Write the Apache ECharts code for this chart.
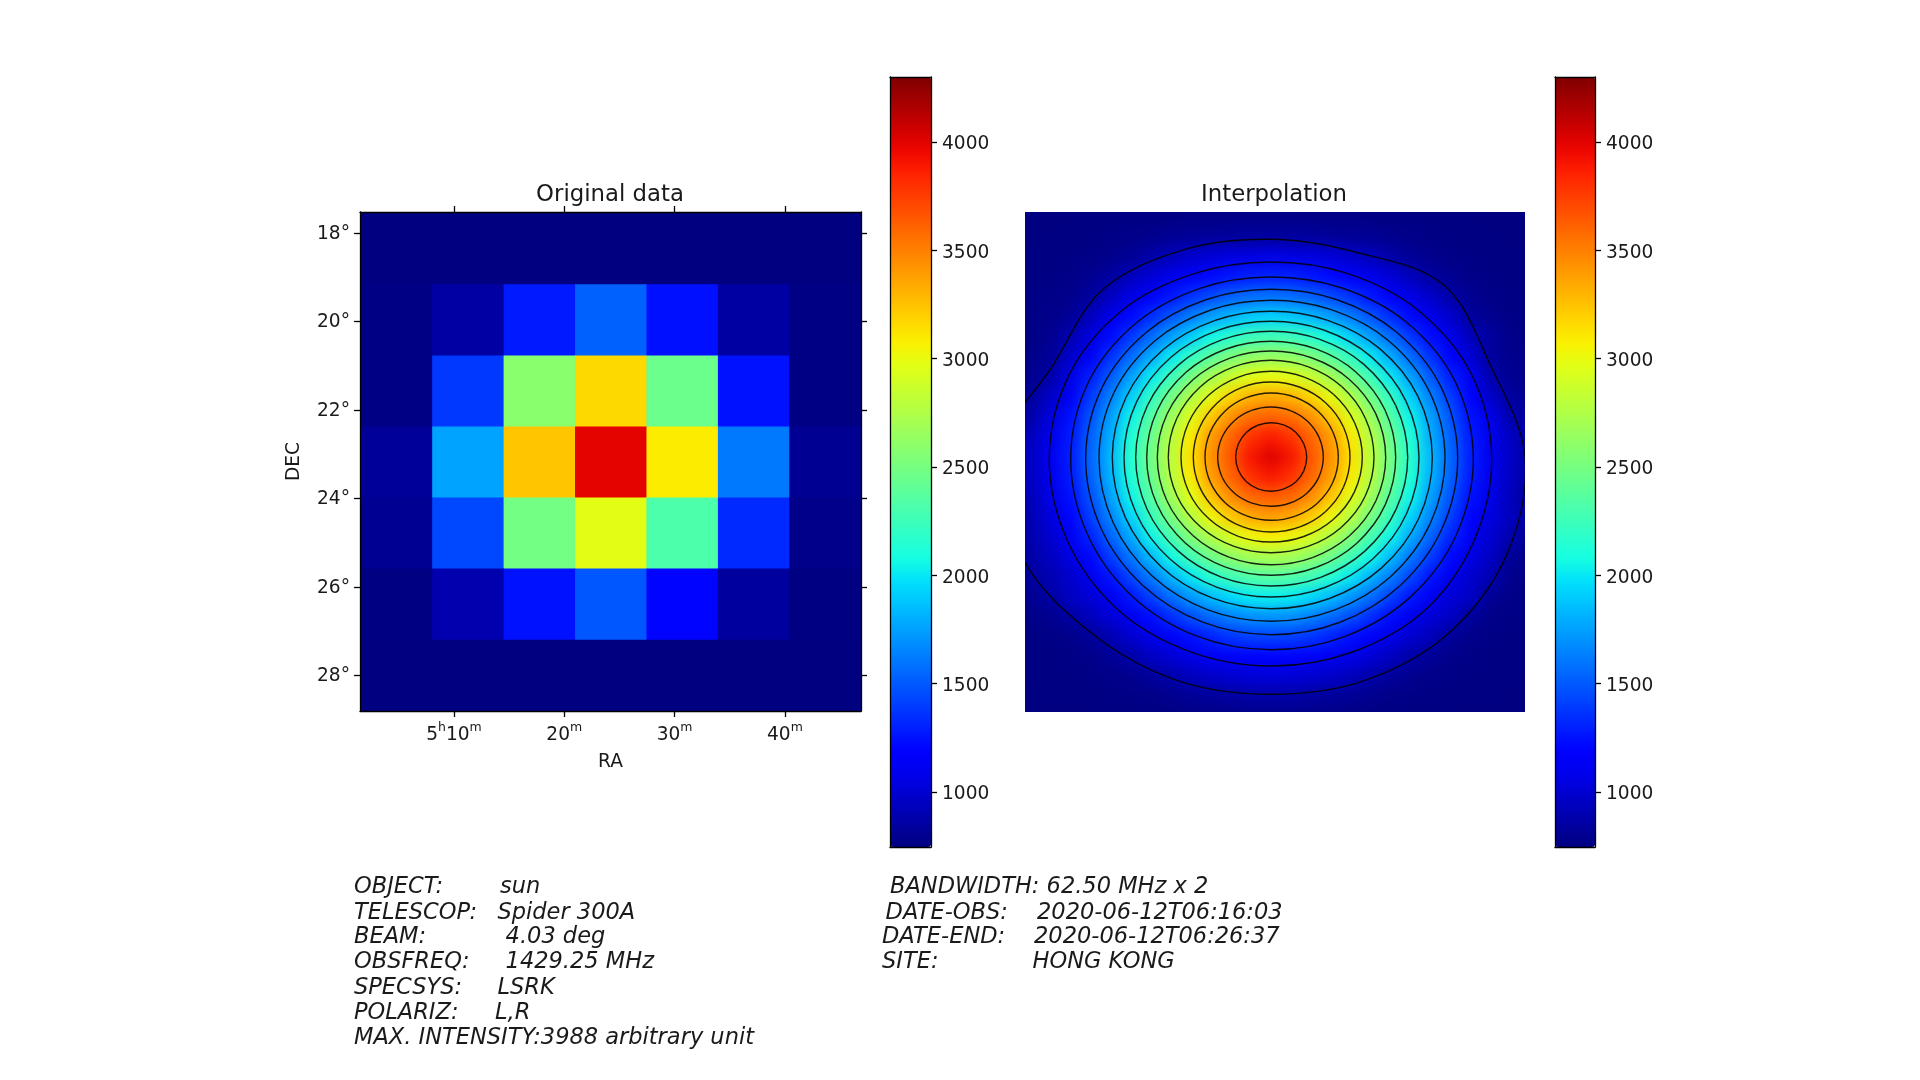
<!DOCTYPE html>
<html>
<head>
<meta charset="utf-8">
<title>sun</title>
<script src="https://cdn.jsdelivr.net/npm/echarts@6/dist/echarts.min.js"></script>
<style>
html,body{margin:0;padding:0;background:#fff;width:1920px;height:1080px;overflow:hidden}
#clip{position:absolute;left:1025px;top:212px;width:500px;height:500px;overflow:hidden;background:#000080}
#surface{position:absolute;left:-24px;top:-25px;width:540px;height:540px;filter:blur(7px)}
#main{position:absolute;left:0;top:0;width:1920px;height:1080px;filter:blur(0.5px)}
</style>
</head>
<body>
<div id="clip"><div id="surface"></div></div>
<div id="main"></div>
<script>
// Colour scale limits
const scaleMin = 746;
const scaleMax = 4300;
const jetColors = ['#000080','#0000a4','#0000c8','#0000ec','#0000ff','#0020ff','#0040ff','#0060ff','#0080ff','#009fff','#00bfff','#00dffc','#15ffe2','#2effc8','#48ffaf','#62ff95','#7bff7b','#95ff62','#afff48','#c8ff2e','#e2ff15','#fcf000','#ffd200','#ffb500','#ff9700','#ff7a00','#ff5c00','#ff3e00','#ff2100','#ec0400','#c80000','#a40000','#800000'];

// Axis ticks
const raTicks = [10, 20, 30, 40];
const raLabels = ['{n|5}{s|h}{n|10}{s|m}', '{n|20}{s|m}', '{n|30}{s|m}', '{n|40}{s|m}'];
const decTicks = [18, 20, 22, 24, 26, 28];
const barTicks = [1000, 1500, 2000, 2500, 3000, 3500, 4000];

// Original data, 7 x 7 cells, top row first
const originalRow0 = [750, 750, 750, 750, 750, 750, 750];
const originalRow1 = [760, 853, 1279, 1528, 1244, 850, 760];
const originalRow2 = [760, 1386, 2583, 3163, 2452, 1250, 760];
const originalRow3 = [820, 1759, 3234, 3988, 3092, 1610, 800];
const originalRow4 = [800, 1439, 2487, 2971, 2320, 1332, 780];
const originalRow5 = [755, 890, 1250, 1493, 1200, 840, 755];
const originalRow6 = [750, 750, 750, 750, 750, 750, 750];

// Interpolated surface, values on a coarse grid, top row first
const surface = [
[750,750,750,750,750,751,751,752,753,754,755,756,757,757,757,756,755,754,753,752,751,751,750,750,750,750,750],
[750,750,750,751,752,755,757,759,762,765,768,770,773,775,773,770,768,765,762,759,757,755,752,751,750,750,750],
[750,750,751,753,758,765,775,790,808,817,824,832,838,844,838,832,824,817,808,790,775,765,758,753,751,750,750],
[751,752,755,761,769,783,815,870,935,984,1021,1045,1055,1060,1055,1045,1021,984,935,870,815,783,769,761,755,752,751],
[751,755,762,770,797,848,935,1015,1076,1151,1213,1259,1294,1306,1294,1259,1213,1151,1076,1015,935,848,797,770,762,755,751],
[755,761,770,780,838,942,1060,1157,1259,1365,1452,1526,1573,1587,1573,1526,1452,1365,1259,1157,1060,973,868,799,770,761,755],
[757,768,780,817,930,1076,1203,1344,1484,1624,1745,1841,1899,1921,1899,1841,1745,1624,1484,1344,1203,1076,979,838,793,768,757],
[759,762,797,897,1038,1213,1377,1559,1745,1916,2060,2161,2244,2266,2244,2161,2060,1916,1745,1559,1377,1213,1070,930,838,778,762],
[765,770,821,978,1130,1356,1563,1787,2006,2204,2380,2528,2615,2643,2615,2528,2380,2204,2006,1787,1563,1356,1180,1003,832,790,775],
[775,793,870,1060,1286,1503,1750,2006,2249,2498,2700,2858,2965,3003,2965,2858,2700,2498,2249,2006,1750,1503,1286,1108,885,800,780],
[793,826,972,1120,1389,1634,1915,2193,2478,2744,2986,3182,3307,3349,3307,3182,2986,2744,2478,2193,1915,1634,1389,1183,972,838,800],
[808,870,1038,1239,1470,1745,2038,2340,2658,2952,3225,3440,3572,3616,3572,3440,3225,2952,2658,2340,2038,1745,1470,1239,1066,885,817],
[838,930,1085,1273,1521,1798,2113,2441,2765,3094,3399,3605,3795,3881,3795,3605,3399,3094,2765,2441,2113,1798,1521,1273,1085,948,838],
[844,958,1095,1290,1540,1835,2145,2478,2806,3139,3431,3660,3900,4010,3900,3660,3431,3139,2806,2478,2145,1835,1540,1290,1095,958,844],
[838,950,1084,1277,1522,1814,2119,2447,2771,3094,3386,3605,3804,3891,3804,3605,3386,3094,2771,2447,2119,1814,1522,1277,1084,950,838],
[826,925,1066,1243,1470,1750,2046,2357,2674,2969,3241,3458,3594,3638,3594,3458,3241,2969,2674,2357,2046,1750,1470,1243,1066,925,826],
[817,897,1036,1193,1402,1648,1937,2215,2510,2777,3025,3219,3349,3391,3349,3219,3025,2777,2510,2215,1937,1648,1402,1193,1036,942,817],
[800,885,990,1125,1306,1531,1782,2046,2293,2547,2749,2923,3031,3071,3031,2923,2749,2547,2293,2046,1782,1531,1306,1125,990,885,800],
[780,864,942,1056,1203,1394,1606,1841,2065,2272,2459,2610,2696,2722,2696,2610,2459,2272,2065,1841,1606,1394,1203,1056,955,817,780],
[765,838,903,981,1095,1249,1427,1620,1819,2001,2150,2266,2340,2368,2340,2266,2150,2001,1819,1620,1427,1249,1095,981,903,786,765],
[759,800,857,955,1011,1118,1256,1410,1568,1718,1851,1950,2012,2033,2012,1950,1851,1718,1568,1410,1256,1118,1011,966,808,771,759],
[756,768,793,857,935,1015,1105,1223,1340,1456,1559,1638,1691,1707,1691,1638,1559,1456,1340,1223,1105,1015,960,826,773,763,756],
[752,757,764,776,820,900,990,1066,1151,1233,1306,1369,1408,1419,1408,1369,1306,1233,1151,1066,990,925,820,776,764,757,752],
[751,753,758,764,773,812,865,946,1010,1062,1107,1151,1174,1184,1174,1151,1107,1062,1010,946,865,812,773,764,758,753,751],
[750,751,753,757,763,771,790,825,873,928,969,994,1011,1020,1011,994,969,928,873,825,790,771,763,757,753,751,750],
[750,750,751,752,755,760,765,772,786,808,826,846,860,865,860,846,826,808,786,772,765,760,755,752,751,750,750],
[750,750,750,750,750,751,752,755,757,759,762,765,767,768,767,765,762,759,757,755,752,751,750,750,750,750,750]
];

// Contour lines: distance from the peak at 16 bearings, clockwise from east, in panel units (0..500)
const contourPeak = [246, 245.3];
const contour01 = [35.7,35.5,34.9,34.2,34,34.2,34.7,35.1,35.3,35.2,35,34.7,34.6,34.8,35.2,35.5];
const contour02 = [52.3,51.8,50.7,49.5,49,49.6,51.2,52.7,53.3,52.9,51.8,50.7,50.3,50.6,51.3,52];
const contour03 = [67.3,66.7,65.2,63.6,63,63.4,64.5,65.6,66,65.8,65.2,64.5,64.3,64.7,65.8,66.9];
const contour04 = [79,78.4,76.9,75.3,74.7,75.1,76.2,77.3,77.7,77.4,76.5,75.7,75.3,75.8,77.2,78.5];
const contour05 = [91.3,90.3,88,85.7,84.7,85.5,87.4,89.2,90,89.4,88,86.6,86,86.8,88.7,90.5];
const contour06 = [103,101.9,99.2,96.5,95.4,96.5,99,101.6,102.7,101.9,99.9,97.8,97,97.9,100,102.1];
const contour07 = [114.7,113.6,111,108.5,107.4,108.3,110.5,112.8,113.7,112.6,110,107.4,106.3,107.5,110.5,113.5];
const contour08 = [124.7,123.7,121.4,119,118,118.9,121.2,123.4,124.3,123.1,120.2,117.2,116,117.3,120.4,123.4];
const contour09 = [136.7,135.5,132.7,129.9,128.7,129.7,132,134.4,135.3,134,130.7,127.3,126,127.6,131.4,135.1];
const contour10 = [148,146.8,143.9,140.9,139.7,140.7,143.4,146,147,145.4,141.5,137.6,136,137.8,142,146.2];
const contour11 = [161.3,159.9,156.4,152.8,151.4,152.5,155,157.6,158.7,156.9,152.4,147.9,146,148.2,153.7,159.1];
const contour12 = [174,172.5,169,165.5,164,165.2,168,170.8,172,169.8,164.5,159.2,157,159.5,165.5,171.5];
const contour13 = [186.7,185.3,182,178.8,177.4,178.5,181.3,184.2,185.3,182.8,176.6,170.5,168,170.8,177.3,184];
const contour14 = [202.3,200.9,197.4,193.8,192.4,193.6,196.4,199.1,200.3,197.4,190.3,183.2,180.3,183.5,191.3,199.1];
const contour15 = [220.7,219.5,217,211,208.7,210.6,216,220,221.7,218,209,199,195.3,199,208,217];
const contour16 = [254,255,250,242,237,242,251,268,275,237,237.6,225,218,222,244,238];
const contours = [contour01,contour02,contour03,contour04,contour05,contour06,contour07,contour08,contour09,contour10,contour11,contour12,contour13,contour14,contour15,contour16];

// Header text printed under the plots
const infoLeft = [['OBJECT:','sun'],['TELESCOP:','Spider 300A'],['BEAM:','4.03 deg'],['OBSFREQ:','1429.25 MHz'],['SPECSYS:','LSRK'],['POLARIZ:','L,R'],['MAX. INTENSITY:3988 arbitrary unit','']];
const infoRight = [['BANDWIDTH: 62.50 MHz x 2',''],['DATE-OBS:','2020-06-12T06:16:03'],['DATE-END:','2020-06-12T06:26:37'],['SITE:','HONG KONG']];

const FONT = 'DejaVu Sans';
const TEXT = '#1a1a1a';

const originalRows = [originalRow0, originalRow1, originalRow2, originalRow3, originalRow4, originalRow5, originalRow6];
const originalData = [];
originalRows.forEach((row, r) => row.forEach((v, c) => originalData.push([c, r, v])));

const surfaceData = [];
surface.forEach((row, r) => row.forEach((v, c) => surfaceData.push([c, r, v])));

function categoryList(n) { return Array.from({ length: n }, (_, i) => String(i)); }

// ---- smooth surface underneath -----
const surfaceChart = echarts.init(document.getElementById('surface'), null, { renderer: 'canvas' });
surfaceChart.setOption({
  animation: false,
  backgroundColor: '#000080',
  grid: { left: 0, right: 0, top: 0, bottom: 0 },
  xAxis: { type: 'category', data: categoryList(27), show: false },
  yAxis: { type: 'category', data: categoryList(27), show: false, inverse: true },
  visualMap: { show: false, min: scaleMin, max: scaleMax, dimension: 2, inRange: { color: jetColors } },
  series: [{ type: 'heatmap', data: surfaceData, progressive: 0, silent: true, itemStyle: { borderWidth: 0 } }]
});

// ---- main chart ----
const frameLine = { show: true, onZero: false, lineStyle: { color: '#000', width: 1.3 } };
const tickStyle = { color: '#000', width: 1.3 };
const labelStyle = { color: TEXT, fontFamily: FONT, fontSize: 18.6 };

function barGrid(left, width) { return { left: left, top: 77, width: width, height: 770 }; }

function barAxes(gridIndex) {
  return {
    x: [
      { gridIndex, type: 'value', position: 'bottom', min: 0, max: 1, z: 6, axisLine: frameLine, axisTick: { show: false }, axisLabel: { show: false }, splitLine: { show: false } },
      { gridIndex, type: 'value', position: 'top', min: 0, max: 1, z: 6, axisLine: frameLine, axisTick: { show: false }, axisLabel: { show: false }, splitLine: { show: false } }
    ],
    y: [
      { gridIndex, type: 'value', position: 'left', min: scaleMin, max: scaleMax, z: 6, axisLine: frameLine, axisTick: { show: false }, axisLabel: { show: false }, splitLine: { show: false } },
      { gridIndex, type: 'value', position: 'right', min: scaleMin, max: scaleMax, z: 6, axisLine: frameLine,
        axisTick: { show: true, length: 6, lineStyle: tickStyle, customValues: barTicks },
        axisLabel: Object.assign({ show: true, margin: 11, customValues: barTicks, formatter: v => '{a|' + v + '}',
          rich: { a: { fontFamily: FONT, fontSize: 18.6, color: TEXT, padding: [5, 0, 0, 0] } } }, labelStyle), splitLine: { show: false } }
    ]
  };
}
const barA = barAxes(3), barB = barAxes(4);

const graphicTexts = [];
function addText(x, y, text, extra) {
  graphicTexts.push({ type: 'text', x, y, silent: true, style: Object.assign({ text, fill: TEXT, font: '20px "' + FONT + '"', textVerticalAlign: 'middle' }, extra || {}) });
}
const titleFont = '22.8px "' + FONT + '"';
addText(610, 195.5, 'Original data', { font: titleFont, textAlign: 'center' });
addText(1274, 195.5, 'Interpolation', { font: titleFont, textAlign: 'center' });

const infoY = [887, 913, 937.5, 962, 988, 1013, 1038];
const leftLabelX = [354, 354, 354, 354, 354, 354, 354];
const leftValueX = [500, 497.5, 505.6, 505.6, 497.5, 495, 0];
const rightLabelX = [890, 885.6, 882, 882];
const rightValueX = [0, 1037, 1034, 1032.5];
const infoFont = 'italic 22.5px "' + FONT + '"';
infoLeft.forEach((p, i) => {
  addText(leftLabelX[i], infoY[i], p[0], { font: infoFont });
  if (p[1]) addText(leftValueX[i], infoY[i], p[1], { font: infoFont });
});
infoRight.forEach((p, i) => {
  addText(rightLabelX[i], infoY[i], p[0], { font: infoFont });
  if (p[1]) addText(rightValueX[i], infoY[i], p[1], { font: infoFont });
});

// Draws one closed contour through its read points as a smooth curve, using the axes' scale
function renderContour(params, api) {
  const radii = contours[api.value(0)];
  const pts = radii.map((d, i) => {
    const a = i * Math.PI / 8;
    return api.coord([contourPeak[0] + d * Math.cos(a), contourPeak[1] + d * Math.sin(a)]);
  });
  const n = pts.length;
  const children = pts.map((p, i) => {
    const prev = pts[(i + n - 1) % n], next = pts[(i + 1) % n], after = pts[(i + 2) % n];
    return {
      type: 'bezierCurve',
      shape: {
        x1: p[0], y1: p[1], x2: next[0], y2: next[1],
        cpx1: p[0] + (next[0] - prev[0]) / 5.8, cpy1: p[1] + (next[1] - prev[1]) / 5.8,
        cpx2: next[0] - (after[0] - p[0]) / 5.8, cpy2: next[1] - (after[1] - p[1]) / 5.8
      },
      style: { stroke: '#000', lineWidth: 1.4, opacity: 0.85, fill: null }
    };
  });
  const c = params.coordSys;
  return { type: 'group', children, clipPath: { type: 'rect', shape: { x: c.x, y: c.y, width: c.width, height: c.height } } };
}

const chart = echarts.init(document.getElementById('main'), null, { renderer: 'canvas' });
chart.setOption({
  animation: false,
  backgroundColor: 'transparent',
  grid: [
    { left: 361, top: 213.5, width: 500, height: 497.5 },
    { left: 360, top: 212, width: 501, height: 499, show: true, backgroundColor: '#000080', borderWidth: 0 },
    { left: 1025, top: 212, width: 500, height: 500 },
    barGrid(890, 41),
    barGrid(1555, 40)
  ],
  xAxis: [
    { gridIndex: 0, type: 'category', data: categoryList(7), show: false },
    { gridIndex: 1, type: 'value', position: 'bottom', min: 1.48, max: 46.9, z: 6, name: 'RA', nameLocation: 'middle', nameGap: 42,
      nameTextStyle: { color: TEXT, fontFamily: FONT, fontSize: 18.6 }, axisLine: frameLine,
      axisTick: { show: true, length: 6, lineStyle: tickStyle, customValues: raTicks },
      axisLabel: { show: true, margin: 10, customValues: raTicks, formatter: v => raLabels[raTicks.indexOf(v)],
        color: TEXT, fontFamily: FONT, fontSize: 18.6,
        rich: {
          n: { fontFamily: FONT, fontSize: 18.6, color: TEXT, verticalAlign: 'bottom', lineHeight: 24 },
          s: { fontFamily: FONT, fontSize: 12.5, color: TEXT, verticalAlign: 'top', lineHeight: 24 }
        } }, splitLine: { show: false } },
    { gridIndex: 1, type: 'value', position: 'top', min: 1.48, max: 46.9, z: 6, axisLine: frameLine,
      axisTick: { show: true, length: 6, lineStyle: tickStyle, customValues: raTicks }, axisLabel: { show: false }, splitLine: { show: false } },
    { gridIndex: 2, type: 'value', min: 0, max: 500, show: false },
    barA.x[0], barA.x[1], barB.x[0], barB.x[1]
  ],
  yAxis: [
    { gridIndex: 0, type: 'category', data: categoryList(7), show: false, inverse: true },
    { gridIndex: 1, type: 'value', position: 'left', inverse: true, min: 17.52, max: 28.81, z: 6, name: 'DEC', nameLocation: 'middle', nameGap: 56,
      nameTextStyle: { color: TEXT, fontFamily: FONT, fontSize: 18.6 }, axisLine: frameLine,
      axisTick: { show: true, length: 6, lineStyle: tickStyle, customValues: decTicks },
      axisLabel: Object.assign({ show: true, margin: 10, customValues: decTicks, formatter: v => '{a|' + v + '°}',
        rich: { a: { fontFamily: FONT, fontSize: 18.6, color: TEXT, padding: [2, 0, 0, 0] } } }, labelStyle), splitLine: { show: false } },
    { gridIndex: 1, type: 'value', position: 'right', inverse: true, min: 17.52, max: 28.81, z: 6, axisLine: frameLine,
      axisTick: { show: true, length: 6, lineStyle: tickStyle, customValues: decTicks }, axisLabel: { show: false }, splitLine: { show: false } },
    { gridIndex: 2, type: 'value', min: 0, max: 500, inverse: true, show: false },
    barA.y[0], barA.y[1], barB.y[0], barB.y[1]
  ],
  visualMap: [
    { type: 'continuous', seriesIndex: 0, dimension: 2, min: scaleMin, max: scaleMax, left: 890, top: 77, itemWidth: 41, itemHeight: 770, padding: 0, calculable: false, hoverLink: false, text: null, showLabel: false, inRange: { color: jetColors } },
    { type: 'continuous', seriesIndex: 0, dimension: 2, min: scaleMin, max: scaleMax, left: 1555, top: 77, itemWidth: 40, itemHeight: 770, padding: 0, calculable: false, hoverLink: false, text: null, showLabel: false, inRange: { color: jetColors } }
  ],
  series: [
    { type: 'heatmap', xAxisIndex: 0, yAxisIndex: 0, data: originalData, progressive: 0, silent: true, itemStyle: { borderWidth: 0 } },
    { type: 'custom', xAxisIndex: 3, yAxisIndex: 3, data: contours.map((c, i) => [i, i]), renderItem: renderContour, silent: true, z: 3 }
  ],
  graphic: graphicTexts
});
</script>
</body>
</html>
